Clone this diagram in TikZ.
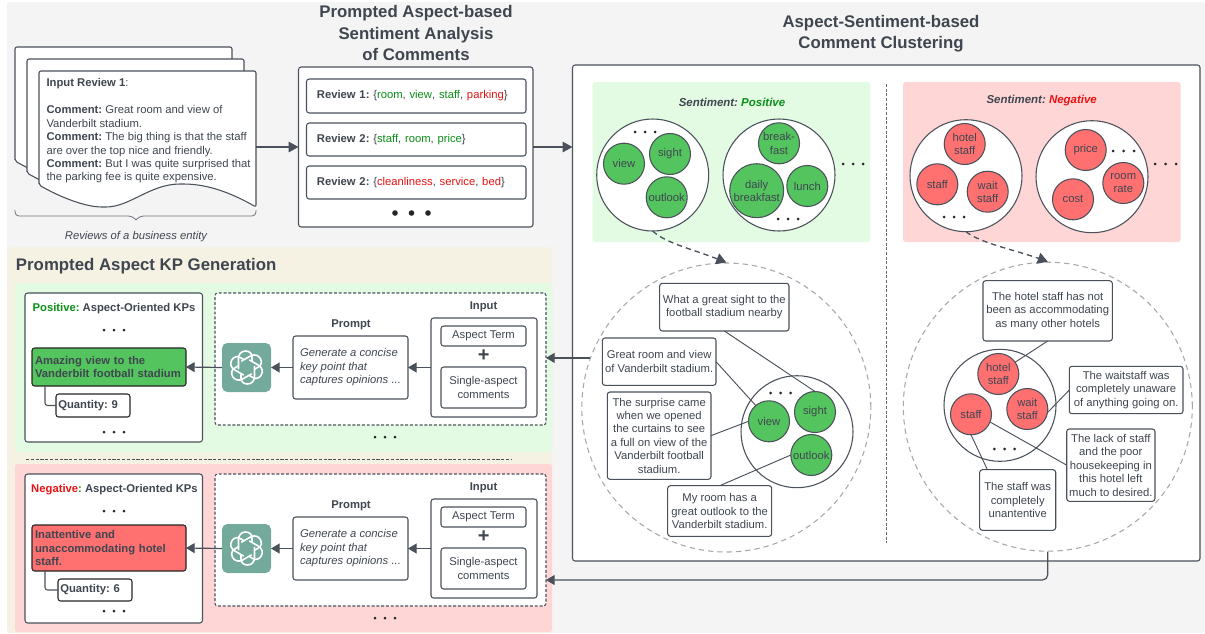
\documentclass[tikz,border=0pt]{standalone}
\usepackage{fontspec}
\setmainfont{Liberation Sans}
\usetikzlibrary{arrows.meta}
\definecolor{ink}{HTML}{3F4650}
\definecolor{edge}{HTML}{4A515B}
\definecolor{bggray}{HTML}{F4F4F4}
\definecolor{bgbeige}{HTML}{F5F2E3}
\definecolor{pgreen}{HTML}{E3FAE3}
\definecolor{pred}{HTML}{FFD6D6}
\definecolor{cgreen}{HTML}{54C45E}
\definecolor{cred}{HTML}{FF7070}
\definecolor{tgreen}{HTML}{0A8F17}
\definecolor{tred}{HTML}{E81313}
\definecolor{gptgreen}{HTML}{74AA9C}
\definecolor{dashgray}{HTML}{A8A8A8}
\newcommand{\bodyf}{\frenchspacing\fontsize{8.45}{10.1}\selectfont}
\newcommand{\titlef}{\fontsize{12.6}{15}\selectfont\bfseries}
\tikzset{
  txt/.style={text=ink,font=\bodyf,align=center,inner sep=0pt,outer sep=0pt},
  boxb/.style={txt,draw=edge,fill=white,line width=0.8pt,rounded corners=2pt},
  flat/.style={txt,rounded corners=2pt},
  dashbox/.style={boxb,dashed,dash pattern=on 2.2pt off 1.4pt},
  arr/.style={draw=edge,line width=0.9pt,-{Triangle[length=7.5pt,width=8pt]}},
  arrs/.style={draw=edge,line width=0.9pt,-{Triangle[length=6.5pt,width=7.5pt]}},
  dasharr/.style={draw=edge,line width=1pt,dash pattern=on 4pt off 3pt,-{Triangle[length=7.5pt,width=8.5pt,fill=edge]}},
  wire/.style={draw=edge,line width=0.7pt},
  bigc/.style={txt,circle,draw=edge,fill=white,line width=0.8pt},
  gc/.style={txt,circle,draw=edge,fill=cgreen,line width=0.8pt},
  rc/.style={txt,circle,draw=edge,fill=cred,line width=0.8pt},
  bigd/.style={circle,draw=dashgray,line width=0.8pt,dash pattern=on 4pt off 3pt,inner sep=0pt},
  doc/.style={draw=edge,fill=white,line width=0.8pt,rounded corners=1.5pt},
}
\newcommand{\bx}[6][boxb]{%
  \pgfmathsetmacro\bxw{((#5)-(#3))*0.75}%
  \pgfmathsetmacro\bxh{((#6)-(#4))*0.75}%
  \pgfmathsetmacro\bxcx{((#5)+(#3))/2}%
  \pgfmathsetmacro\bxcy{((#6)+(#4))/2}%
  \node[#1,minimum width=\bxw pt,minimum height=\bxh pt] (#2) at (\bxcx,\bxcy)}
\newcommand{\cir}[6]{%
  \pgfmathsetmacro\bxw{2*(#4)*0.75}%
  \node[#5,minimum size=\bxw pt] (#1) at (#2,#3) {#6};}
\newcommand{\threedots}[4]{%
  \foreach \k in {0,1,2}{\fill[black!85] ({#1+\k*#3},#2) circle[radius=#4];}}
\newcommand{\docshape}[2]{%
  \begin{scope}[shift={(#1,#2)}]
  \draw[doc] (39,185) -- (39,71) -- (256,71) -- (256,207)
    .. controls (235,195) and (210,184) .. (182,184)
    .. controls (150,184) and (130,207) .. (104,207)
    .. controls (85,207) and (60,197) .. cycle;
  \end{scope}}
\newcommand{\knot}[2]{%
  \begin{scope}[shift={(#1,#2)}]
  \foreach \a in {0,60,120,180,240,300}{
    \draw[white,line width=1.2pt,line cap=round,rotate=\a]
      (-8,1) -- (-8,-9) .. controls (-8,-13.5) and (-5,-16.5) .. (-1,-16.5)
      .. controls (3,-16.5) and (5.5,-14) .. (5.5,-10.5) -- (5.5,-6.5);
  }
  \end{scope}}
\newcommand{\kpflow}[2]{%
  \bx[dashbox]{#1dash}{215}{293+#2}{546}{425+#2}{};
  \node[txt,font=\bodyf\bfseries] (#1inlab) at (483.6,307+#2) {Input};
  \bx{#1in}{431}{318+#2}{537}{417+#2}{};
  \bx{#1aspect}{441}{326+#2}{526}{346+#2}{Aspect Term};
  \node[txt,font=\fontsize{15}{15}\selectfont\bfseries] (#1plus) at (483.6,356+#2) {+};
  \bx{#1single}{441}{367+#2}{526}{408+#2}{Single-aspect\\comments};
  \node[txt,font=\bodyf\bfseries] (#1promptlab) at (351,325+#2) {Prompt};
  \bx[boxb,align=left,font=\bodyf\itshape]{#1prompt}{293}{336+#2}{408}{399+#2}{Generate a concise\\key point that\\captures opinions ...};
  \bx[txt,fill=gptgreen,rounded corners=4pt]{#1gpt}{222}{343+#2}{271}{392+#2}{};
  \knot{246.5}{367.5+#2}
  \draw[arrs] (#1in.west) -- (#1prompt.east);
  \draw[arrs] (#1prompt.west) -- (#1gpt.east);
  \threedots{375}{437+#2}{10}{1.5}
}
\begin{document}
\begin{tikzpicture}[x=0.75pt,y=-0.75pt]
\useasboundingbox (0,0) rectangle (1205,633);
% backgrounds
\fill[white] (0,0) rectangle (1205,633);
\fill[bggray,rounded corners=2pt] (7,2) rectangle (1205,633);
\fill[bgbeige,rounded corners=2pt] (7,247) rectangle (552,633);
\fill[pgreen,rounded corners=2pt] (15,283) rectangle (552,452);
\fill[pred,rounded corners=2pt] (15,464) rectangle (552,632);
\draw[edge,line width=0.6pt,dash pattern=on 2.4pt off 1.2pt] (26,459) -- (512,459);
% titles
\node[txt,font=\titlef] (t1) at (416,33) {Prompted Aspect-based\\[1.2pt]Sentiment Analysis\\[1.2pt]of Comments};
\node[txt,font=\titlef] (t2) at (881,33.5) {Aspect-Sentiment-based\\[1.2pt]Comment Clustering};
\node[txt,font=\titlef,anchor=west] (t3) at (16,266) {Prompted Aspect KP Generation};
% documents
\docshape{-24}{-24}
\docshape{-12}{-12}
\docshape{0}{0}
\node[txt,anchor=north west,align=left] (doctext) at (46.5,78.5) {\textbf{Input Review 1}:\\\mbox{}\\\textbf{Comment:} Great room and view of\\Vanderbilt stadium.\\\textbf{Comment:} The big thing is that the staff\\are over the top nice and friendly.\\\textbf{Comment:} But I was quite surprised that\\the parking fee is quite expensive.};
\coordinate (docout) at (256,147);
\draw[edge!80,line width=0.6pt,rounded corners=3pt] (15,210) -- (15,216) -- (132.5,216) -- (136,220);
\draw[edge!80,line width=0.6pt,rounded corners=3pt] (256,210) -- (256,216) -- (139.5,216) -- (136,220);
\node[txt,font=\bodyf\itshape] (doclab) at (136,237) {Reviews of a business entity};
% PASA
\bx{pasa}{298.5}{67}{533}{227}{};
\bx[boxb,align=left,inner xsep=7.8pt,text width=149pt]{r1}{306.5}{79}{526}{113}{\textbf{Review 1:} \{\textcolor{tgreen}{room}, \textcolor{tgreen}{view}, \textcolor{tgreen}{staff}, \textcolor{tred}{parking}\}};
\bx[boxb,align=left,inner xsep=7.8pt,text width=149pt]{r2}{306.5}{123}{526}{156}{\textbf{Review 2:} \{\textcolor{tgreen}{staff}, \textcolor{tgreen}{room}, \textcolor{tgreen}{price}\}};
\bx[boxb,align=left,inner xsep=7.8pt,text width=149pt]{r3}{306.5}{166}{526}{199}{\textbf{Review 2:} \{\textcolor{tred}{cleanliness}, \textcolor{tred}{service}, \textcolor{tred}{bed}\}};
\threedots{395}{213}{16.5}{2.8}
\draw[arr] (docout) -- (docout -| pasa.west);
% main clustering box
\bx{main}{572.5}{65}{1200}{561}{};
\draw[arr] (pasa.east |- docout) -- (docout -| main.west);
\bx[flat,fill=pgreen]{pospanel}{592.7}{82}{870}{242}{};
\bx[flat,fill=pred]{negpanel}{903}{82}{1180.7}{242}{};
\draw[edge!85,line width=0.7pt,dash pattern=on 2.2pt off 1.3pt] (886,84) -- (886,543);
\node[txt,font=\frenchspacing\fontsize{8.6}{10}\selectfont\bfseries\itshape] (slp) at (732,102) {Sentiment: \textcolor{tgreen}{Positive}};
\node[txt,font=\frenchspacing\fontsize{8.6}{10}\selectfont\bfseries\itshape] (sln) at (1041.7,101) {Sentiment: \textcolor{tred}{Negative}};
% positive clusters
\cir{pc1}{652.7}{175}{56}{bigc}{}
\cir{pc1a}{624}{163.7}{20.5}{gc}{view}
\cir{pc1b}{670}{154}{20.5}{gc}{sight}
\cir{pc1c}{666.7}{197.3}{20.5}{gc}{outlook}
\threedots{635}{132}{10}{1.5}
\cir{pc2}{779}{175}{56}{bigc}{}
\cir{pc2a}{779}{143.3}{20.5}{gc}{break-\\fast}
\cir{pc2b}{756.7}{190.7}{27}{gc}{daily\\breakfast}
\cir{pc2c}{807.3}{186}{20.5}{gc}{lunch}
\threedots{778}{219}{10}{1.5}
\threedots{843}{164}{10}{1.5}
% negative clusters
\cir{nc1}{966}{175.7}{56}{bigc}{}
\cir{nc1a}{964.7}{144}{20.5}{rc}{hotel\\staff}
\cir{nc1b}{937.3}{184.3}{20.5}{rc}{staff}
\cir{nc1c}{987.7}{191.7}{20.5}{rc}{wait\\staff}
\threedots{944}{217}{10}{1.5}
\cir{nc2}{1092}{176.7}{56}{bigc}{}
\cir{nc2a}{1085.7}{150}{20.5}{rc}{price}
\cir{nc2b}{1123.3}{183}{20.5}{rc}{room\\rate}
\cir{nc2c}{1073}{199.3}{20.5}{rc}{cost}
\threedots{1113}{151}{10.5}{1.5}
\threedots{1155}{164}{10.5}{1.5}
% big dashed circles
\cir{bigp}{726.3}{407.5}{144.5}{bigd}{}
\cir{bign}{1047.8}{406.7}{144.5}{bigd}{}
\draw[dasharr] (pc1.south) .. controls (665,243) and (695,250) .. (bigp.north);
\draw[dasharr] (nc1.south) .. controls (980,243) and (1015,250) .. (bign.north);
% positive detail
\cir{ip}{797}{431.7}{56}{bigc}{}
\cir{ipa}{769}{421.3}{20.5}{gc}{view}
\cir{ipb}{815}{412}{20.5}{gc}{sight}
\cir{ipc}{811.3}{455}{20.5}{gc}{outlook}
\threedots{770.7}{393}{10}{1.5}
\bx{pb1}{659.7}{283.3}{789}{331}{What a great sight to the\\football stadium nearby};
\bx{pb2}{602.3}{338}{716}{385.3}{Great room and view\\of Vanderbilt stadium.};
\bx{pb3}{607.3}{392}{711}{479.3}{The surprise came\\when we opened\\the curtains to see\\a full on view of the\\Vanderbilt football\\stadium.};
\bx{pb4}{667.7}{485.7}{771.7}{536.3}{My room has a\\great outlook to the\\Vanderbilt stadium.};
\draw[wire] (pb1.south) -- (ipb.north);
\draw[wire] (pb2.east) -- (ipa.130);
\draw[wire] (pb3.east) -- (ipa.west);
\draw[wire] (pb4.north) -- (ipc.west);
% negative detail
\cir{in}{1000}{405.3}{56}{bigc}{}
\cir{ina}{998.3}{374}{20.5}{rc}{hotel\\staff}
\cir{inb}{1027.3}{409}{20.5}{rc}{wait\\staff}
\cir{inc}{971}{414.3}{20.5}{rc}{staff}
\threedots{994.3}{449}{10.2}{1.5}
\bx{nb1}{983}{280.7}{1112.3}{341}{The hotel staff has not\\been as accommodating\\as many other hotels};
\bx{nb2}{1069.3}{366.3}{1183}{413.7}{The waitstaff was\\completely unaware\\of anything going on.};
\bx{nb3}{1066.7}{429}{1155}{501.3}{The lack of staff\\and the poor\\housekeeping in\\this hotel left\\much to desired.};
\bx{nb4}{979.7}{469.7}{1055.7}{530.3}{The staff was\\completely\\unantentive};
\draw[wire] (nb1.south) -- (ina.35);
\draw[wire] (nb2.west) -- (inb.-10);
\draw[wire] (inc.-22) -- (nb3.west);
\draw[wire] (inc.south) -- (nb4.135);
% positive KP side
\bx{pkp}{25}{293}{202.5}{442}{};
\node[txt,font=\bodyf\bfseries] (pkpt) at (114,308.5) {\textcolor{tgreen}{Positive:} Aspect-Oriented KPs};
\threedots{104}{330}{10}{1.5}
\threedots{104}{432}{10}{1.5}
\bx[boxb,fill=cgreen,draw=black!85,align=left,font=\bodyf\bfseries,inner xsep=2.2pt,text width=111pt]{pkey}{32}{348}{186}{386}{Amazing view to the\\Vanderbilt football stadium};
\bx[boxb,draw=black!85,align=left,font=\bodyf\bfseries,inner xsep=1.7pt,text width=52pt]{pq}{56}{394}{130}{417}{Quantity: 9};
\draw[edge,line width=0.8pt,rounded corners=2pt] (pkey.south -| 45,0) |- (pq.west);
\kpflow{p}{0}
\draw[arrs] (pgpt.west) -- (pkey.east);
% negative KP side
\bx{nkp}{25}{474}{202.5}{623}{};
\node[txt,font=\bodyf\bfseries] (nkpt) at (114.5,489.5) {\textcolor{tred}{Negative}\textcolor{tgreen}{:} Aspect-Oriented KPs};
\threedots{104}{511}{10}{1.5}
\threedots{104}{611}{10}{1.5}
\bx[boxb,fill=cred,draw=black!85,align=left,font=\bodyf\bfseries,inner xsep=2.2pt,text width=111pt]{nkey}{32}{525}{186}{571}{Inattentive and\\unaccommodating hotel\\staff.};
\bx[boxb,draw=black!85,align=left,font=\bodyf\bfseries,inner xsep=1.7pt,text width=52pt]{nq}{58}{579}{132}{601}{Quantity: 6};
\draw[edge,line width=0.8pt,rounded corners=2pt] (nkey.south -| 45,0) |- (nq.west);
\kpflow{n}{181}
\draw[arrs] (ngpt.west) -- (nkey.east);
% cross connectors
\draw[arrs] (bigp.160) -- (bigp.160 -| pdash.east);
\coordinate (nentry) at (546,580);
\draw[arrs,rounded corners=4pt] (bign.south) |- (nentry);
\end{tikzpicture}
\end{document}
